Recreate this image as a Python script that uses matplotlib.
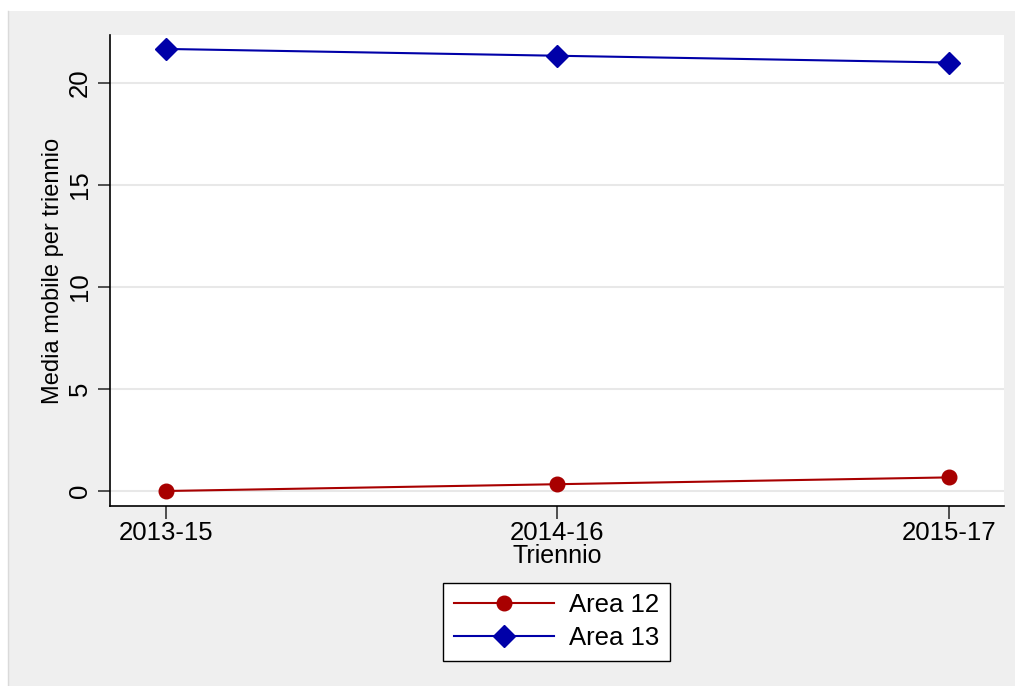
import matplotlib
matplotlib.use("Agg")
import matplotlib.pyplot as plt
from matplotlib.patches import Rectangle
from matplotlib.lines import Line2D

plt.rcParams['font.family'] = ['Liberation Sans', 'DejaVu Sans']

categories = ["2013-15", "2014-16", "2015-17"]
area12 = [0.0, 0.333, 0.667]
area13 = [21.667, 21.333, 21.0]
yticks = [0, 5, 10, 15, 20]

W, H = 1015, 686
fig = plt.figure(figsize=(W / 100, H / 100), dpi=100, facecolor='white')
fig.add_artist(Rectangle((8 / W, 0), 1 - 8 / W, 1 - 11 / H, transform=fig.transFigure,
                         facecolor='#EFEFEF', edgecolor='none', zorder=0))
fig.add_artist(Line2D([8 / W, 8 / W], [0, 1 - 11 / H], transform=fig.transFigure,
                      color='#DADADA', lw=1, zorder=0.5))

ax = fig.add_axes([110 / W, (H - 506) / H, (1004 - 110) / W, (506 - 35) / H])
ax.set_facecolor('white')
x = list(range(len(categories)))
red = '#A80000'
blue = '#0000A8'
ax.plot(x, area12, color=red, lw=1.5, marker='o', markersize=10.5, label='Area 12', zorder=3)
ax.plot(x, area13, color=blue, lw=1.5, marker='D', markersize=11, label='Area 13', zorder=3)

ax.set_xlim(-0.142, 2.14)
ax.set_ylim(-0.735, 22.35)
ax.set_xticks(x)
ax.set_xticklabels(categories, fontsize=18.5)
ax.set_yticks(yticks)
ax.set_yticklabels([str(v) for v in yticks], fontsize=18.5, rotation=90, va='center')
ax.yaxis.grid(True, color='#E8E8E8', lw=1.5)
ax.set_axisbelow(True)
for s in ['top', 'right']:
    ax.spines[s].set_visible(False)
for s in ['left', 'bottom']:
    ax.spines[s].set_linewidth(1.2)
    ax.spines[s].set_color('black')
ax.tick_params(axis='both', direction='out', length=9, width=1.2, color='#333333')
ax.tick_params(axis='x', pad=2)
ax.tick_params(axis='y', pad=4)
ax.set_xlabel('Triennio', fontsize=18, labelpad=-1)
ax.set_ylabel('Media mobile per triennio', fontsize=17, labelpad=3)

leg = fig.legend(loc='upper center', bbox_to_anchor=(556.5 / W, 1 - 583 / H), fontsize=18.5,
                 frameon=True, fancybox=False, edgecolor='black', facecolor='white',
                 framealpha=1, handlelength=3.9, handletextpad=0.6, labelspacing=0.35,
                 borderpad=0.4, borderaxespad=0)
leg.get_frame().set_linewidth(1.0)

fig.savefig('out.png', dpi=100, facecolor='white')
